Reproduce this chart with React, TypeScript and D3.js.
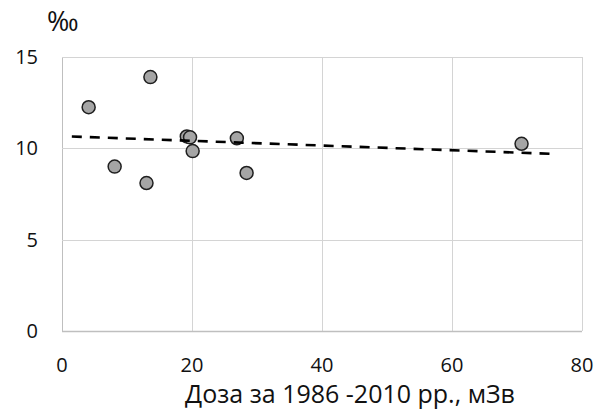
import React, { useEffect, useRef } from 'react';
import * as d3 from 'd3';

// dose (mSv) and rate (‰)
const doses = [4.1, 13.6, 8.1, 13.0, 19.2, 19.7, 20.1, 26.9, 28.4, 70.7];
const rates = [12.25, 13.9, 9.0, 8.1, 10.65, 10.6, 9.85, 10.55, 8.65, 10.25];
const xTicks = [0, 20, 40, 60, 80];
const yTicks = [0, 5, 10, 15];
const trendRange = [0.6, 75];

const App = () => {
  const ref = useRef<SVGSVGElement>(null);

  useEffect(() => {
    const svg = d3.select(ref.current);
    svg.selectAll('*').remove();

    const margin = { top: 57, right: 16, bottom: 79, left: 62 };
    const width = 598 - margin.left - margin.right;
    const height = 410 - margin.top - margin.bottom;
    const font = "'Open Sans', sans-serif";

    const x = d3.scaleLinear().domain([0, 80]).range([0, width]);
    const y = d3.scaleLinear().domain([0, 15]).range([height, 0]);

    const g = svg.append('g').attr('transform', `translate(${margin.left},${margin.top})`);

    // grid
    g.selectAll('.vgrid')
      .data(xTicks)
      .enter()
      .append('line')
      .attr('x1', d => Math.round(x(d)) + 0.5)
      .attr('x2', d => Math.round(x(d)) + 0.5)
      .attr('y1', 0)
      .attr('y2', height)
      .attr('stroke', d => (d === 0 ? '#bfbfbf' : '#d4d4d4'))
      .attr('stroke-width', 1);

    g.selectAll('.hgrid')
      .data(yTicks)
      .enter()
      .append('line')
      .attr('x1', 0)
      .attr('x2', width)
      .attr('y1', d => Math.round(y(d)) + 0.5)
      .attr('y2', d => Math.round(y(d)) + 0.5)
      .attr('stroke', d => (d === 0 ? '#bfbfbf' : '#d4d4d4'))
      .attr('stroke-width', d => (d === 0 ? 1.5 : 1));

    // tick labels
    g.selectAll('.xlab')
      .data(xTicks)
      .enter()
      .append('text')
      .attr('x', d => x(d))
      .attr('y', height + 41)
      .attr('text-anchor', 'middle')
      .attr('font-family', font)
      .attr('font-size', 20)
      .attr('fill', '#111')
      .text(d => d);

    g.selectAll('.ylab')
      .data(yTicks)
      .enter()
      .append('text')
      .attr('x', -24)
      .attr('y', d => y(d))
      .attr('dy', '0.35em')
      .attr('text-anchor', 'end')
      .attr('font-family', font)
      .attr('font-size', 20)
      .attr('fill', '#111')
      .text(d => d);

    // points
    const pts = doses.map((d, i) => ({ x: d, y: rates[i] }));
    g.selectAll('circle')
      .data(pts)
      .enter()
      .append('circle')
      .attr('cx', d => x(d.x))
      .attr('cy', d => y(d.y))
      .attr('r', 6.5)
      .attr('fill', '#a5a5a5')
      .attr('stroke', '#1f1f1f')
      .attr('stroke-width', 1.5);

    // linear trend (least squares)
    const mx = d3.mean(doses) as number;
    const my = d3.mean(rates) as number;
    const slope =
      d3.sum(pts, p => (p.x - mx) * (p.y - my)) / d3.sum(pts, p => (p.x - mx) * (p.x - mx));
    const icpt = my - slope * mx;
    const line = d3
      .line<number>()
      .x(d => x(d))
      .y(d => y(icpt + slope * d));
    const trend = g.append('path')
      .attr('d', line(trendRange))
      .attr('fill', 'none')
      .attr('stroke', '#000')
      .attr('stroke-width', 2.6)
      .attr('stroke-dasharray', '10,8');
    // make the dash pattern finish on a dash at the end of the line
    const len = (trend.node() as SVGPathElement).getTotalLength();
    const period = 18;
    const off = (period - ((len - 10) % period)) % period;
    trend.attr('stroke-dashoffset', off);

    // titles
    svg.append('text')
      .attr('x', 47)
      .attr('y', 31)
      .attr('font-family', font)
      .attr('font-size', 27)
      .attr('fill', '#111')
      .text('‰');

    svg.append('text')
      .attr('x', 350)
      .attr('y', 403)
      .attr('text-anchor', 'middle')
      .attr('font-family', font)
      .attr('font-size', 25)
      .attr('fill', '#111')
      .text('Доза за 1986 -2010 рр., мЗв');
  }, []);

  return (
    <svg
      ref={ref}
      width={598}
      height={410}
      style={{ position: 'absolute', left: 0, top: 0, background: '#fff' }}
    />
  );
};

export default App;
